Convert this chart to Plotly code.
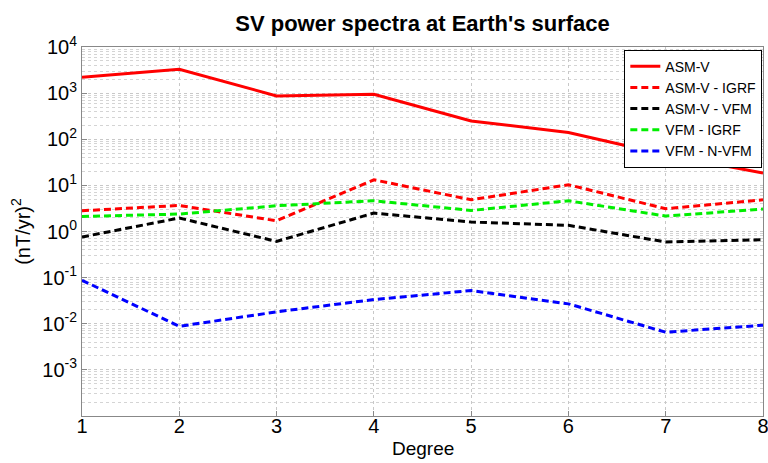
import plotly.graph_objects as go

degree = [1, 2, 3, 4, 5, 6, 7, 8]
asm_v = [2210, 3290, 870, 946, 250, 140, 46, 18.5]
asm_v_igrf = [2.82, 3.67, 1.71, 13.2, 4.87, 10.3, 3.12, 4.87]
asm_v_vfm = [0.76, 1.96, 0.61, 2.51, 1.60, 1.36, 0.593, 0.665]
vfm_igrf = [2.12, 2.39, 3.61, 4.64, 2.86, 4.64, 2.16, 3.07]
vfm_nvfm = [0.0875, 0.0088, 0.0181, 0.0334, 0.0524, 0.027, 0.00655, 0.0093]

series = [
    ("ASM-V", asm_v, "#ff0000", "solid"),
    ("ASM-V - IGRF", asm_v_igrf, "#ff0000", "7px,4px"),
    ("ASM-V - VFM", asm_v_vfm, "#000000", "7px,4px"),
    ("VFM - IGRF", vfm_igrf, "#00ee00", "7px,4px"),
    ("VFM - N-VFM", vfm_nvfm, "#0000ff", "7px,4px"),
]

ytickvals = [1e-3, 1e-2, 1e-1, 1e0, 1e1, 1e2, 1e3, 1e4]
yticktext = ["10<sup>-3</sup>", "10<sup>-2</sup>", "10<sup>-1</sup>", "10<sup>0</sup>",
             "10<sup>1</sup>", "10<sup>2</sup>", "10<sup>3</sup>", "10<sup>4</sup>"]

fig = go.Figure()
for name, vals, col, dash in series:
    fig.add_trace(go.Scatter(x=degree, y=vals, name=name, mode="lines",
                             line=dict(color=col, width=3, dash=dash)))

font_family = "Liberation Sans, Arial, Helvetica, sans-serif"
fig.update_layout(
    width=768, height=463,
    margin=dict(l=82, r=5, t=47, b=47, autoexpand=False),
    paper_bgcolor="white", plot_bgcolor="white",
    font=dict(family=font_family, color="black"),
    title=dict(text="<b>SV power spectra at Earth's surface</b>",
               x=(82 + 763) / 2 / 768, xanchor="center", y=1 - 23 / 463, yanchor="middle",
               font=dict(size=22, color="black")),
    showlegend=True,
    legend=dict(x=0.999, xanchor="right", y=0.993, yanchor="top",
                bgcolor="white", bordercolor="black", borderwidth=1,
                font=dict(size=14, color="black"), tracegroupgap=0,
                itemwidth=30),
    xaxis=dict(range=[1, 8], dtick=1, tick0=1, showgrid=True,
               gridcolor="#c8c8c8", griddash="dot", gridwidth=1,
               showline=True, linecolor="#888888", linewidth=1, mirror=True,
               ticks="inside", ticklen=5, tickcolor="#888888",
               tickfont=dict(size=20, color="black"), zeroline=False,
               ticklabelstandoff=-8, automargin=False, ticklabeloverflow="allow"),
    yaxis=dict(type="log", range=[-4, 4], tickvals=ytickvals, ticktext=yticktext,
               showgrid=True, gridcolor="#c8c8c8", griddash="dot", gridwidth=1,
               minor=dict(dtick="D1", showgrid=True, gridcolor="#d4d4d4",
                          griddash="dot", gridwidth=1),
               showline=True, linecolor="#888888", linewidth=1, mirror=True,
               ticks="inside", ticklen=5, tickcolor="#888888",
               tickfont=dict(size=20, color="black"), zeroline=False, automargin=False,
               title=dict(text="(nT/yr)<sup>2</sup>", font=dict(size=20, color="black"), standoff=6)),
    annotations=[dict(text="Degree", xref="paper", yref="paper",
                      x=0.5, y=-(448 - 416) / 369, xanchor="center", yanchor="middle",
                      showarrow=False, font=dict(size=19, color="black"))],
)

fig.write_html("out.html", config={"displayModeBar": False},
               post_script="document.body.style.margin='0';document.body.style.overflow='hidden';")
